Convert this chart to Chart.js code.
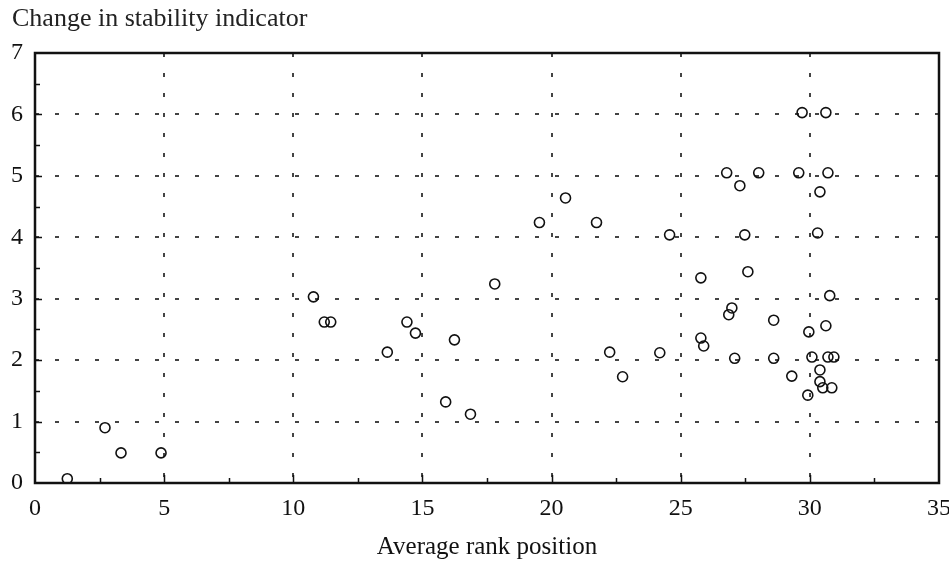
<!DOCTYPE html>
<html>
<head>
<meta charset="utf-8">
<script src="https://cdn.jsdelivr.net/npm/chart.js@4.4.1/dist/chart.umd.min.js"></script>
<style>
    body { margin: 0; background: #fff; }
    canvas { display: block; }
</style>
</head>
<body>
<canvas id="chart" width="949" height="564"></canvas>
<script>
// Datos
const rankPosition = [
    1.25, 2.71, 3.33, 4.88, 10.78, 11.2, 11.45, 13.64, 14.4, 14.73,
    15.9, 16.24, 16.86, 17.8, 19.53, 20.54, 21.74, 22.25, 22.75, 24.19,
    24.57, 25.78, 25.78, 25.89, 26.78, 26.86, 26.98, 27.09, 27.29, 27.48,
    27.6, 28.02, 28.6, 28.6, 29.3, 29.57, 29.7, 29.92, 29.96, 30.08,
    30.3, 30.39, 30.39, 30.39, 30.5, 30.62, 30.62, 30.7, 30.7, 30.77,
    30.85, 30.93
];
const stabilityChange = [
    0.07, 0.90, 0.49, 0.49, 3.03, 2.62, 2.62, 2.13, 2.62, 2.44,
    1.32, 2.33, 1.12, 3.24, 4.24, 4.64, 4.24, 2.13, 1.73, 2.12,
    4.04, 3.34, 2.36, 2.23, 5.05, 2.74, 2.85, 2.03, 4.84, 4.04,
    3.44, 5.05, 2.65, 2.03, 1.74, 5.05, 6.03, 1.43, 2.46, 2.05,
    4.07, 4.74, 1.84, 1.65, 1.55, 6.03, 2.56, 5.05, 2.05, 3.05,
    1.55, 2.05
];
const xRange = [0, 35];
const yRange = [0, 7];
const yTitle = 'Change in stability indicator';
const xTitle = 'Average rank position';

const points = rankPosition.map((x, i) => ({ x: x, y: stabilityChange[i] }));
const serif = '"Liberation Serif", "Times New Roman", serif';

// Marco, marcas interiores y título superior
const framePlugin = {
    id: 'frame',
    beforeDraw(chart) {
        const c = chart.ctx;
        c.save();
        c.fillStyle = '#fff';
        c.fillRect(0, 0, chart.width, chart.height);
        c.restore();
    },
    afterDatasetsDraw(chart) {
        const c = chart.ctx;
        const a = chart.chartArea;
        const xs = chart.scales.x;
        const ys = chart.scales.y;
        c.save();
        c.strokeStyle = '#111';
        c.lineWidth = 1.5;
        c.beginPath();
        for (let v = 2.5; v < xRange[1]; v += 2.5) {
            const px = Math.round(xs.getPixelForValue(v)) + 0.5;
            const len = v % 5 === 0 ? 8 : 5;
            c.moveTo(px, a.bottom);
            c.lineTo(px, a.bottom - len);
        }
        for (let v = 0.5; v < yRange[1]; v += 0.5) {
            const py = Math.round(ys.getPixelForValue(v)) + 0.5;
            const len = v % 1 === 0 ? 7 : 5;
            c.moveTo(a.left, py);
            c.lineTo(a.left + len, py);
        }
        c.stroke();
        c.lineWidth = 2.5;
        c.strokeRect(a.left, a.top, a.right - a.left, a.bottom - a.top);
        c.fillStyle = '#222';
        c.font = '26px ' + serif;
        c.textBaseline = 'alphabetic';
        c.fillText(yTitle, 12, 26);
        c.restore();
    }
};

const ctx = document.getElementById('chart').getContext('2d');
new Chart(ctx, {
    type: 'scatter',
    data: {
        datasets: [{
            data: points,
            pointStyle: 'circle',
            pointRadius: 5,
            borderWidth: 1.6,
            borderColor: '#111',
            backgroundColor: 'rgba(0,0,0,0)'
        }]
    },
    options: {
        responsive: false,
        animation: false,
        layout: { padding: { top: 53, right: 10, left: 0, bottom: 0 } },
        plugins: {
            legend: { display: false },
            tooltip: { enabled: false }
        },
        scales: {
            x: {
                type: 'linear',
                min: xRange[0],
                max: xRange[1],
                ticks: {
                    stepSize: 5,
                    padding: 11,
                    color: '#111',
                    font: { family: serif, size: 24 }
                },
                grid: {
                    drawTicks: false,
                    lineWidth: 2,
                    color: (c) => (c.tick && c.tick.value > xRange[0] && c.tick.value < xRange[1]) ? '#444' : 'rgba(0,0,0,0)'
                },
                border: { display: false, dash: [4, 16] },
                title: {
                    display: true,
                    text: xTitle,
                    color: '#111',
                    padding: { top: 0, bottom: 2 },
                    font: { family: serif, size: 25 }
                },
                afterFit: (s) => { s.height = 81; s.paddingLeft = 0; s.paddingRight = 0; }
            },
            y: {
                type: 'linear',
                min: yRange[0],
                max: yRange[1],
                ticks: {
                    stepSize: 1,
                    padding: 12,
                    color: '#111',
                    font: { family: serif, size: 24 }
                },
                grid: {
                    drawTicks: false,
                    lineWidth: 2,
                    color: (c) => (c.tick && c.tick.value > yRange[0] && c.tick.value < yRange[1]) ? '#444' : 'rgba(0,0,0,0)'
                },
                border: { display: false, dash: [4, 16] },
                afterFit: (s) => { s.width = 35; }
            }
        }
    },
    plugins: [framePlugin]
});
</script>
</body>
</html>
